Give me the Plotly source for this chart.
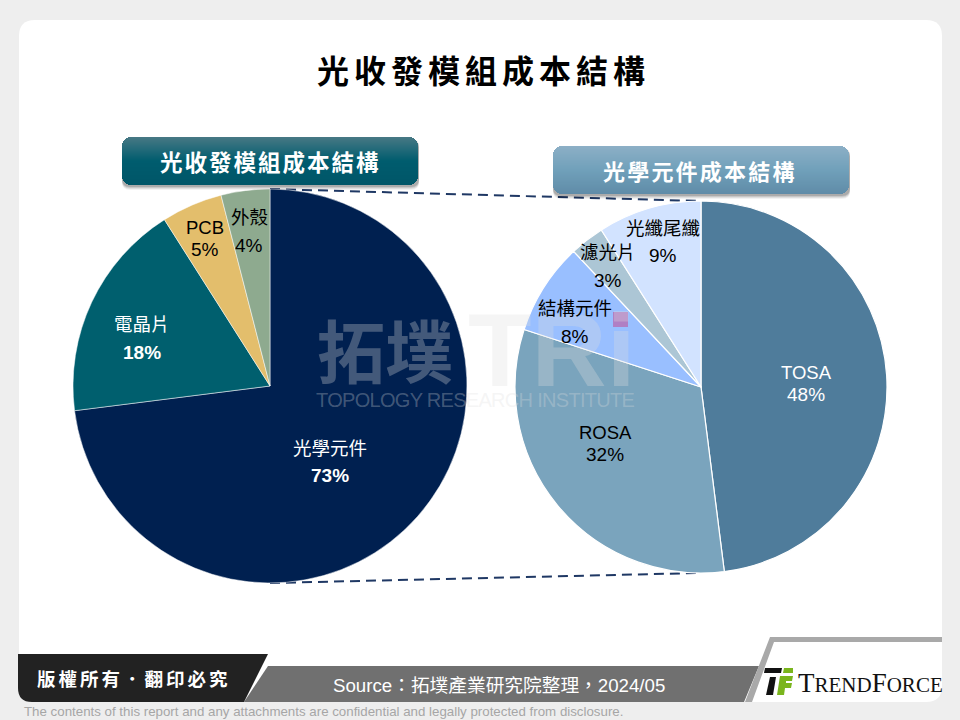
import plotly.graph_objects as go

W, H = 960, 720
CJK = "Liberation Sans, Noto Sans CJK TC"

# left pie
main_labels = ["光學元件", "電晶片", "PCB", "外殼"]
main_values = [73, 18, 5, 4]
main_colors = ["#002050", "#005F6E", "#E3BE6C", "#8EAA8F"]
main_text_colors = ["white", "white", "black", "black"]
main_text_pos = [(330, 448, 475), (142, 325, 352), (205, 227, 249), (249, 217, 245)]

# right pie
optic_labels = ["TOSA", "ROSA", "結構元件", "濾光片", "光纖尾纖"]
optic_values = [48, 32, 8, 3, 9]
optic_colors = ["#4F7C9B", "#7AA4BD", "#99BFFF", "#ACC6D5", "#D2E3FF"]
optic_text_colors = ["white", "black", "black", "black", "black"]
optic_text_pos = [(806, 372, 394), (605, 432, 454), (575, 308, 336), (608, 253, 281), (663, 228, 255)]


def px(x):
    return x / W


def py(y):
    return 1 - y / H


def poly(points, fill, layer="below"):
    d = "M " + " L ".join(f"{px(x)},{py(y)}" for x, y in points) + " Z"
    return dict(type="path", xref="paper", yref="paper", path=d, fillcolor=fill,
                line=dict(width=0), layer=layer)


def rounded(x0, y0, x1, y1, r, fill, layer="below"):
    d = (f"M {px(x0 + r)},{py(y0)} L {px(x1 - r)},{py(y0)} Q {px(x1)},{py(y0)} {px(x1)},{py(y0 + r)} "
         f"L {px(x1)},{py(y1 - r)} Q {px(x1)},{py(y1)} {px(x1 - r)},{py(y1)} "
         f"L {px(x0 + r)},{py(y1)} Q {px(x0)},{py(y1)} {px(x0)},{py(y1 - r)} "
         f"L {px(x0)},{py(y0 + r)} Q {px(x0)},{py(y0)} {px(x0 + r)},{py(y0)} Z")
    return dict(type="path", xref="paper", yref="paper", path=d, fillcolor=fill,
                line=dict(width=0), layer=layer)


def mix(c1, c2, t):
    return "rgb(" + ",".join(str(round(a + (b - a) * t)) for a, b in zip(c1, c2)) + ")"


def header_box(x0, y0, x1, y1, top, mid, bottom):
    # vertical gradient made from one pixel strips, plus a soft shadow
    out = []
    for off, alpha in [(5, 0.05), (4, 0.08), (3, 0.1), (2, 0.14)]:
        out.append(rounded(x0, y0 + off, x1 + 1, y1 + off, 8, f"rgba(0,0,0,{alpha})", "above"))
    h = y1 - y0
    insets = [6, 4, 3, 2, 1, 1]
    for i in range(h):
        t = i / (h - 1)
        c = mix(top, mid, t / 0.5) if t < 0.5 else mix(mid, bottom, (t - 0.5) / 0.5)
        inset = 0
        if i < len(insets):
            inset = insets[i]
        elif h - 1 - i < len(insets):
            inset = insets[h - 1 - i]
        out.append(dict(type="rect", xref="paper", yref="paper", x0=px(x0 + inset), x1=px(x1 - inset),
                        y0=py(y0 + i), y1=py(y0 + i + 1), fillcolor=c, line=dict(width=0), layer="above"))
    return out


def label(x, y, text, size, color, family=CJK, anchor="center"):
    return dict(x=px(x), y=py(y), xref="paper", yref="paper", text=text, showarrow=False,
                xanchor=anchor, yanchor="middle", font=dict(family=family, size=size, color=color),
                borderpad=0)


fig = go.Figure()

fig.add_trace(go.Pie(
    labels=main_labels, values=main_values, sort=False, direction="clockwise", rotation=0,
    marker=dict(colors=main_colors, line=dict(color="white", width=0.5)),
    textinfo="none", hoverinfo="label+percent",
    domain=dict(x=[px(270 - 197), px(270 + 197)], y=[py(386 + 197), py(386 - 197)]),
))
fig.add_trace(go.Pie(
    labels=optic_labels, values=optic_values, sort=False, direction="clockwise", rotation=0,
    marker=dict(colors=optic_colors, line=dict(color="white", width=1.2)),
    textinfo="none", hoverinfo="label+percent",
    domain=dict(x=[px(701 - 186), px(701 + 186)], y=[py(387 + 186), py(387 - 186)]),
))

shapes = [rounded(19, 20, 942, 702, 16, "white")]

# dashed connectors between the two pies
for a, b in [((270, 189), (701, 201)), ((270, 583), (701, 573))]:
    shapes.append(dict(type="line", xref="paper", yref="paper", x0=px(a[0]), y0=py(a[1]), x1=px(b[0]), y1=py(b[1]),
                       line=dict(color="#1F3864", width=2, dash="10px,6px"), layer="below"))

shapes += header_box(122, 137, 418, 185, (70, 120, 132), (0, 92, 110), (0, 86, 104))
shapes += header_box(553, 146, 849, 194, (140, 175, 198), (112, 160, 186), (96, 140, 168))

# footer
shapes.append(poly([(268, 666), (759, 666), (744, 702), (244, 702)], "#707070", "above"))
shapes.append(poly([(745, 702), (770, 637), (942, 637), (942, 642), (774, 642), (752, 702)], "#A9A9A9", "above"))
shapes.append(dict(type="path", xref="paper", yref="paper", fillcolor="#222222", line=dict(width=0), layer="above",
                   path=f"M {px(18)},{py(654)} L {px(268)},{py(654)} L {px(244)},{py(702)} L {px(32)},{py(702)} "
                        f"Q {px(18)},{py(702)} {px(18)},{py(688)} Z"))
# logo mark
shapes.append(poly([(765, 668), (782, 668), (781, 673), (764, 673)], "#111111", "above"))
shapes.append(poly([(784, 668), (793, 668), (793, 673), (783, 673)], "#7AB51D", "above"))
shapes.append(poly([(770, 677), (776, 677), (773, 695), (766, 695)], "#111111", "above"))
shapes.append(poly([(780, 676), (793, 676), (792, 681), (786, 681), (786, 683), (792, 683), (791, 688), (785, 688), (784, 695), (777, 695)],
                   "#7AB51D", "above"))
# small square of the watermark
shapes.append(dict(type="rect", xref="paper", yref="paper", x0=px(613), x1=px(628), y0=py(327), y1=py(312),
                   fillcolor="rgba(178,120,190,0.9)", line=dict(width=0), layer="above"))

WATERMARK = "rgba(222,222,222,0.3)"
annotations = [
    # watermark
    label(385, 348, "<b>拓墣</b>", 68, WATERMARK, "Noto Sans CJK TC"),
    label(552, 350, "<b>TRi</b>", 104, WATERMARK, "Liberation Sans"),
    label(475, 400, '<span style="letter-spacing:-0.7px">TOPOLOGY RESEARCH INSTITUTE</span>', 20, WATERMARK, "Liberation Sans"),
    # titles
    label(483, 69, '<b><span style="letter-spacing:5px">光收發模組成本結構</span></b>', 32, "black", "Noto Sans CJK TC"),
    label(270, 161, '<b><span style="letter-spacing:2px">光收發模組成本結構</span></b>', 22.5, "white", "Noto Sans CJK TC"),
    label(700, 170, '<b><span style="letter-spacing:2.2px">光學元件成本結構</span></b>', 22, "white", "Noto Sans CJK TC"),
    # footer
    label(134, 678, '<b><span style="letter-spacing:3px">版權所有．翻印必究</span></b>', 18.5, "white", "Noto Sans CJK TC"),
    label(499, 685, "Source：拓墣產業研究院整理，2024/05", 18.7, "white"),
    label(23, 711, "The contents of this report and any attachments are confidential and legally protected from disclosure.",
          13.3, "#A6A6A6", anchor="left"),
    label(797, 683, '<span style="font-size:27px">T</span>REND<span style="font-size:27px">F</span>ORCE', 21, "#111111",
          "Liberation Serif", anchor="left"),
]

for labels, values, colors, pos in [
    (main_labels, main_values, main_text_colors, main_text_pos),
    (optic_labels, optic_values, optic_text_colors, optic_text_pos),
]:
    for name, val, color, (x, y_name, y_val) in zip(labels, values, colors, pos):
        annotations.append(label(x, y_name, name, 18.5, color))
        val_text = f"<b>{val}%</b>" if labels is main_labels and color == "white" else f"{val}%"
        annotations.append(label(x, y_val, val_text, 19, color))

fig.update_layout(
    width=W, height=H,
    margin=dict(l=0, r=0, t=0, b=0),
    paper_bgcolor="#EEEEEE",
    showlegend=False,
    shapes=shapes,
    annotations=annotations,
)

# the page's default body margin would push the figure 8px down and right
fig.write_html("out.html", config={"displayModeBar": False}, post_script="document.body.style.margin='0';")
